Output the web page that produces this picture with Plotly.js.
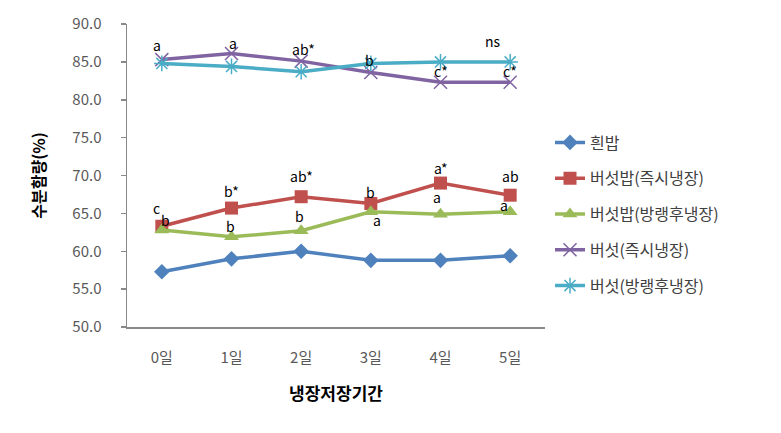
<!DOCTYPE html>
<html>
<head>
<meta charset="utf-8">
<script src="https://cdn.plot.ly/plotly-3.0.1.min.js"></script>
<style>html,body{margin:0;padding:0;background:#fff;}#chart{width:781px;height:433px;}</style>
</head>
<body>
<div id="chart"></div>
<script>
// ---- data ----
const days = ['0일', '1일', '2일', '3일', '4일', '5일'];
const seriesNames = ['흰밥', '버섯밥(즉시냉장)', '버섯밥(방랭후냉장)', '버섯(즉시냉장)', '버섯(방랭후냉장)'];
const whiteRice = [57.3, 59.0, 60.0, 58.8, 58.8, 59.4];
const mushRiceImmediate = [63.3, 65.7, 67.2, 66.3, 69.0, 67.4];
const mushRiceCooled = [62.8, 61.9, 62.7, 65.2, 64.9, 65.2];
const mushImmediate = [85.3, 86.1, 85.1, 83.6, 82.3, 82.3];
const mushCooled = [84.8, 84.4, 83.7, 84.8, 85.0, 85.0];

const lblMushRiceImmediate = ['c', 'b*', 'ab*', 'b', 'a*', 'ab'];
const lblMushRiceCooled = ['b', 'b', 'b', 'a', 'a', 'a'];
const lblMushImmediate = ['a', 'a', 'ab*', 'b', 'c*', 'c*'];
const lblMushCooled = ['', '', '', '', '', 'ns'];

// ---- styles ----
const colors = ['#4F81BD', '#C0504D', '#9BBB59', '#8064A2', '#4BACC6'];
const font = '"Noto Sans CJK KR", "Noto Sans", sans-serif';

const traces = [
  {y: whiteRice, marker: {symbol: 'diamond', size: 12}},
  {y: mushRiceImmediate, marker: {symbol: 'square', size: 13}},
  {y: mushRiceCooled, marker: {symbol: 'triangle-up', size: 13}},
  {y: mushImmediate, marker: {symbol: 'x-thin', size: 13, line: {width: 1.5, color: colors[3]}}},
  {y: mushCooled, marker: {symbol: 'asterisk-open', size: 13, line: {width: 1.5, color: colors[4]}}}
].map((t, i) => ({
  type: 'scatter', mode: 'lines+markers', x: days, y: t.y, name: seriesNames[i],
  legendgroup: 'g' + i,
  line: {color: colors[i], width: 3.5},
  marker: Object.assign({color: colors[i]}, t.marker)
}));

// annotation offsets (px) relative to points
const labelSets = [
  {vals: mushRiceImmediate, lbl: lblMushRiceImmediate,
   dx: [-5, 0, 0, 0, 0, 0], dy: [18, 17, 21, 12, 15, 19]},
  {vals: mushRiceCooled, lbl: lblMushRiceCooled,
   dx: [4, -1, -2, 6, -4, -6], dy: [10, 11, 15, -8, 17, 7]},
  {vals: mushImmediate, lbl: lblMushImmediate,
   dx: [-5, 1, 2, -1, 0, 0], dy: [15, 11, 12, 12, 11, 11]},
  {vals: mushCooled, lbl: lblMushCooled,
   dx: [0, 0, 0, 0, 0, -17], dy: [0, 0, 0, 0, 0, 21]}
];
const annotations = [];
labelSets.forEach(s => {
  s.lbl.forEach((t, i) => {
    if (!t) return;
    annotations.push({
      x: days[i], y: s.vals[i], xref: 'x', yref: 'y', text: t, showarrow: false,
      xshift: s.dx[i], yshift: s.dy[i], yanchor: 'middle',
      font: {family: font, size: 14, color: '#000'}
    });
  });
});

const layout = {
  width: 781, height: 433,
  margin: {l: 127, r: 236, t: 24, b: 106},
  paper_bgcolor: '#fff', plot_bgcolor: '#fff',
  font: {family: font, size: 14, color: '#595959'},
  showlegend: true,
  legend: {
    x: 1.012, xanchor: 'left', y: 0.665, yanchor: 'top',
    traceorder: 'grouped', tracegroupgap: 12,
    font: {family: font, size: 16, color: '#404040'},
    bgcolor: 'rgba(0,0,0,0)'
  },
  xaxis: {
    type: 'category', range: [-0.5, 5.5],
    showline: true, linecolor: '#898989', linewidth: 1.5,
    showgrid: false, zeroline: false, ticks: '',
    ticklabelstandoff: 16,
    tickfont: {family: font, size: 15, color: '#595959'},
    title: {text: '냉장저장기간', font: {family: font, size: 17, color: '#000', weight: 'bold'}, standoff: 22}
  },
  yaxis: {
    range: [50, 90], dtick: 5, tickformat: '.1f',
    showline: true, linecolor: '#898989', linewidth: 1.5,
    showgrid: false, zeroline: false,
    ticks: 'outside', ticklen: 5, tickcolor: '#898989', tickwidth: 1.5,
    ticklabelstandoff: 16,
    tickfont: {family: font, size: 15, color: '#595959'},
    title: {text: '수분함량(%)', font: {family: font, size: 16, color: '#000', weight: 'bold'}, standoff: 22}
  },
  annotations: annotations
};

Plotly.newPlot('chart', traces, layout, {displayModeBar: false, staticPlot: true});
</script>
</body>
</html>
